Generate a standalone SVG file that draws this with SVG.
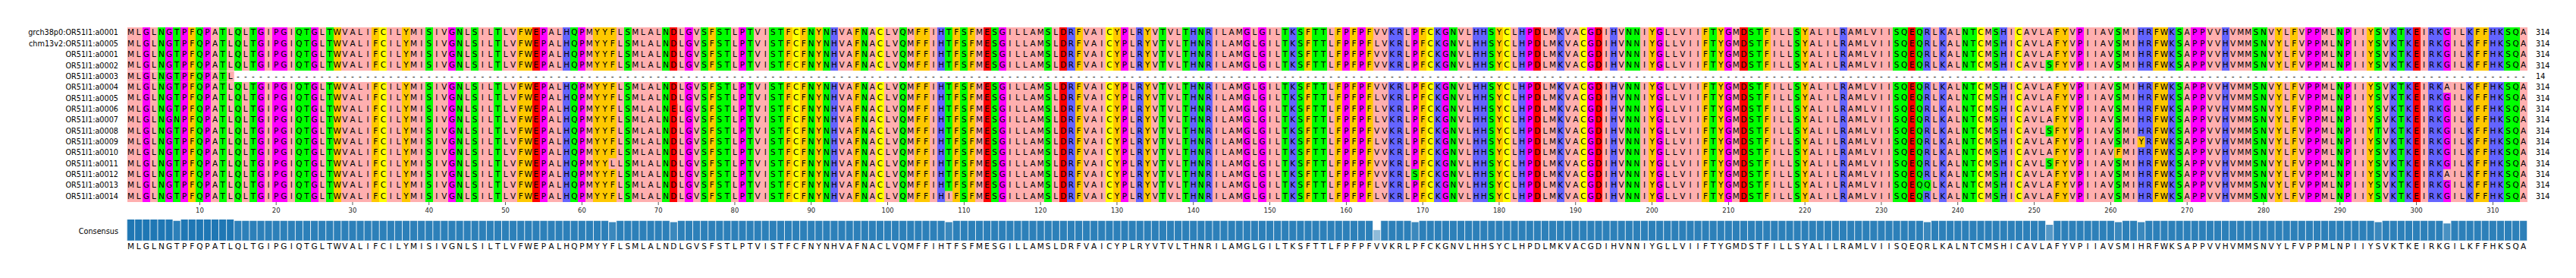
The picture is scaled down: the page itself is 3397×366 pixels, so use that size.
<svg xmlns="http://www.w3.org/2000/svg" width="3397" height="366" viewBox="0 0 3397 366">
<style>
.cH{fill:#ffafaf}.cA{fill:#ffc800}.cP{fill:#6464ff}.cN{fill:#ff0000}.cL{fill:#00ff00}.cG{fill:#ff00ff}.cC{fill:#ffff00}
.s{font:10.5px "DejaVu Sans",sans-serif;fill:#000;text-anchor:middle}
.lb{font:9.7px "DejaVu Sans",sans-serif;fill:#000;text-anchor:end}
.ct{font:9.7px "DejaVu Sans",sans-serif;fill:#000;text-anchor:start}
.tk{font:8.5px "DejaVu Sans",sans-serif;fill:#262626;text-anchor:middle}
</style>
<defs>
<clipPath id="c14"><rect x="167.6" y="93.44" width="141.12" height="14.36"/></clipPath>
<g id="bg" shape-rendering="crispEdges">
<rect class="cH" x="0" width="314" height="1"/>
<rect class="cG" x="2" width="1" height="1"/><rect class="cL" x="4" width="1" height="1"/><rect class="cG" x="5" width="1" height="1"/><rect class="cL" x="6" width="1" height="1"/><rect class="cG" x="7" width="1" height="1"/><rect class="cA" x="8" width="1" height="1"/><rect class="cL" x="9" width="1" height="1"/><rect class="cG" x="10" width="1" height="1"/><rect class="cL" x="12" width="1" height="1"/><rect class="cL" x="14" width="1" height="1"/><rect class="cL" x="16" width="1" height="1"/><rect class="cG" x="17" width="1" height="1"/><rect class="cG" x="19" width="2" height="1"/><rect class="cL" x="22" width="2" height="1"/><rect class="cG" x="24" width="1" height="1"/><rect class="cL" x="26" width="1" height="1"/><rect class="cA" x="27" width="1" height="1"/><rect class="cA" x="32" width="1" height="1"/><rect class="cC" x="33" width="1" height="1"/><rect class="cA" x="36" width="1" height="1"/><rect class="cL" x="39" width="1" height="1"/><rect class="cG" x="42" width="1" height="1"/><rect class="cL" x="43" width="1" height="1"/><rect class="cL" x="45" width="1" height="1"/><rect class="cL" x="48" width="1" height="1"/><rect class="cA" x="51" width="2" height="1"/><rect class="cN" x="53" width="1" height="1"/><rect class="cG" x="54" width="1" height="1"/><rect class="cP" x="57" width="1" height="1"/><rect class="cL" x="58" width="1" height="1"/><rect class="cG" x="59" width="1" height="1"/><rect class="cA" x="61" width="3" height="1"/><rect class="cL" x="65" width="1" height="1"/><rect class="cL" x="70" width="1" height="1"/><rect class="cN" x="71" width="1" height="1"/><rect class="cG" x="73" width="1" height="1"/><rect class="cL" x="75" width="1" height="1"/><rect class="cA" x="76" width="1" height="1"/><rect class="cL" x="77" width="2" height="1"/><rect class="cG" x="80" width="1" height="1"/><rect class="cL" x="81" width="1" height="1"/><rect class="cL" x="84" width="2" height="1"/><rect class="cA" x="86" width="1" height="1"/><rect class="cC" x="87" width="1" height="1"/><rect class="cA" x="88" width="1" height="1"/><rect class="cL" x="89" width="1" height="1"/><rect class="cA" x="90" width="1" height="1"/><rect class="cL" x="91" width="1" height="1"/><rect class="cP" x="92" width="1" height="1"/><rect class="cA" x="95" width="1" height="1"/><rect class="cL" x="96" width="1" height="1"/><rect class="cC" x="98" width="1" height="1"/><rect class="cL" x="101" width="1" height="1"/><rect class="cA" x="103" width="2" height="1"/><rect class="cP" x="106" width="1" height="1"/><rect class="cL" x="107" width="1" height="1"/><rect class="cA" x="108" width="1" height="1"/><rect class="cL" x="109" width="1" height="1"/><rect class="cA" x="110" width="1" height="1"/><rect class="cN" x="112" width="1" height="1"/><rect class="cL" x="113" width="1" height="1"/><rect class="cG" x="114" width="1" height="1"/><rect class="cL" x="120" width="1" height="1"/><rect class="cN" x="122" width="1" height="1"/><rect class="cP" x="123" width="1" height="1"/><rect class="cA" x="124" width="1" height="1"/><rect class="cC" x="128" width="1" height="1"/><rect class="cA" x="129" width="1" height="1"/><rect class="cG" x="130" width="1" height="1"/><rect class="cP" x="132" width="1" height="1"/><rect class="cA" x="133" width="1" height="1"/><rect class="cL" x="135" width="1" height="1"/><rect class="cL" x="138" width="1" height="1"/><rect class="cP" x="139" width="1" height="1"/><rect class="cL" x="140" width="1" height="1"/><rect class="cP" x="141" width="1" height="1"/><rect class="cG" x="146" width="1" height="1"/><rect class="cG" x="148" width="1" height="1"/><rect class="cL" x="151" width="1" height="1"/><rect class="cP" x="152" width="1" height="1"/><rect class="cL" x="153" width="1" height="1"/><rect class="cA" x="154" width="1" height="1"/><rect class="cL" x="155" width="2" height="1"/><rect class="cA" x="158" width="1" height="1"/><rect class="cG" x="159" width="1" height="1"/><rect class="cA" x="160" width="1" height="1"/><rect class="cG" x="161" width="1" height="1"/><rect class="cA" x="162" width="1" height="1"/><rect class="cP" x="165" width="2" height="1"/><rect class="cG" x="168" width="1" height="1"/><rect class="cA" x="169" width="1" height="1"/><rect class="cC" x="170" width="1" height="1"/><rect class="cP" x="171" width="1" height="1"/><rect class="cG" x="172" width="1" height="1"/><rect class="cL" x="173" width="1" height="1"/><rect class="cP" x="176" width="2" height="1"/><rect class="cL" x="178" width="1" height="1"/><rect class="cA" x="179" width="1" height="1"/><rect class="cC" x="180" width="1" height="1"/><rect class="cP" x="182" width="1" height="1"/><rect class="cG" x="183" width="1" height="1"/><rect class="cN" x="184" width="1" height="1"/><rect class="cP" x="187" width="1" height="1"/><rect class="cC" x="190" width="1" height="1"/><rect class="cG" x="191" width="1" height="1"/><rect class="cN" x="192" width="1" height="1"/><rect class="cP" x="194" width="1" height="1"/><rect class="cL" x="196" width="2" height="1"/><rect class="cA" x="199" width="1" height="1"/><rect class="cG" x="200" width="1" height="1"/><rect class="cA" x="206" width="1" height="1"/><rect class="cL" x="207" width="1" height="1"/><rect class="cA" x="208" width="1" height="1"/><rect class="cG" x="209" width="1" height="1"/><rect class="cN" x="211" width="1" height="1"/><rect class="cL" x="212" width="2" height="1"/><rect class="cA" x="214" width="1" height="1"/><rect class="cL" x="218" width="1" height="1"/><rect class="cA" x="219" width="1" height="1"/><rect class="cP" x="224" width="1" height="1"/><rect class="cL" x="231" width="2" height="1"/><rect class="cN" x="233" width="1" height="1"/><rect class="cL" x="234" width="1" height="1"/><rect class="cP" x="235" width="1" height="1"/><rect class="cP" x="237" width="1" height="1"/><rect class="cL" x="240" width="2" height="1"/><rect class="cC" x="242" width="1" height="1"/><rect class="cL" x="244" width="1" height="1"/><rect class="cP" x="245" width="1" height="1"/><rect class="cC" x="247" width="1" height="1"/><rect class="cA" x="252" width="2" height="1"/><rect class="cG" x="255" width="1" height="1"/><rect class="cL" x="260" width="1" height="1"/><rect class="cP" x="263" width="2" height="1"/><rect class="cA" x="265" width="2" height="1"/><rect class="cP" x="267" width="1" height="1"/><rect class="cL" x="268" width="1" height="1"/><rect class="cG" x="270" width="2" height="1"/><rect class="cP" x="274" width="1" height="1"/><rect class="cL" x="278" width="2" height="1"/><rect class="cA" x="281" width="1" height="1"/><rect class="cA" x="283" width="1" height="1"/><rect class="cG" x="285" width="2" height="1"/><rect class="cL" x="289" width="1" height="1"/><rect class="cG" x="290" width="1" height="1"/><rect class="cA" x="293" width="1" height="1"/><rect class="cL" x="294" width="1" height="1"/><rect class="cP" x="296" width="1" height="1"/><rect class="cL" x="297" width="1" height="1"/><rect class="cP" x="298" width="1" height="1"/><rect class="cN" x="299" width="1" height="1"/><rect class="cP" x="301" width="2" height="1"/><rect class="cG" x="303" width="1" height="1"/><rect class="cP" x="306" width="1" height="1"/><rect class="cA" x="307" width="2" height="1"/><rect class="cP" x="309" width="2" height="1"/><rect class="cL" x="311" width="2" height="1"/>
</g>
<text id="seq" class="s" y="0" x="172.6 182.7 192.8 202.9 213 223 233.1 243.2 253.3 263.4 273.4 283.5 293.6 303.7 313.8 323.8 333.9 344 354.1 364.2 374.2 384.3 394.4 404.5 414.6 424.6 434.7 444.8 454.9 465 475 485.1 495.2 505.3 515.4 525.4 535.5 545.6 555.7 565.8 575.8 585.9 596 606.1 616.2 626.2 636.3 646.4 656.5 666.6 676.6 686.7 696.8 706.9 717 727 737.1 747.2 757.3 767.4 777.4 787.5 797.6 807.7 817.8 827.8 837.9 848 858.1 868.2 878.2 888.3 898.4 908.5 918.6 928.6 938.7 948.8 958.9 969 979 989.1 999.2 1009.3 1019.4 1029.4 1039.5 1049.6 1059.7 1069.8 1079.8 1089.9 1100 1110.1 1120.2 1130.2 1140.3 1150.4 1160.5 1170.6 1180.6 1190.7 1200.8 1210.9 1221 1231 1241.1 1251.2 1261.3 1271.4 1281.4 1291.5 1301.6 1311.7 1321.8 1331.8 1341.9 1352 1362.1 1372.2 1382.2 1392.3 1402.4 1412.5 1422.6 1432.6 1442.7 1452.8 1462.9 1473 1483 1493.1 1503.2 1513.3 1523.4 1533.4 1543.5 1553.6 1563.7 1573.8 1583.8 1593.9 1604 1614.1 1624.2 1634.2 1644.3 1654.4 1664.5 1674.6 1684.6 1694.7 1704.8 1714.9 1725 1735 1745.1 1755.2 1765.3 1775.4 1785.4 1795.5 1805.6 1815.7 1825.8 1835.8 1845.9 1856 1866.1 1876.2 1886.2 1896.3 1906.4 1916.5 1926.6 1936.6 1946.7 1956.8 1966.9 1977 1987 1997.1 2007.2 2017.3 2027.4 2037.4 2047.5 2057.6 2067.7 2077.8 2087.8 2097.9 2108 2118.1 2128.2 2138.2 2148.3 2158.4 2168.5 2178.6 2188.6 2198.7 2208.8 2218.9 2229 2239 2249.1 2259.2 2269.3 2279.4 2289.4 2299.5 2309.6 2319.7 2329.8 2339.8 2349.9 2360 2370.1 2380.2 2390.2 2400.3 2410.4 2420.5 2430.6 2440.6 2450.7 2460.8 2470.9 2481 2491 2501.1 2511.2 2521.3 2531.4 2541.4 2551.5 2561.6 2571.7 2581.8 2591.8 2601.9 2612 2622.1 2632.2 2642.2 2652.3 2662.4 2672.5 2682.6 2692.6 2702.7 2712.8 2722.9 2733 2743 2753.1 2763.2 2773.3 2783.4 2793.4 2803.5 2813.6 2823.7 2833.8 2843.8 2853.9 2864 2874.1 2884.2 2894.2 2904.3 2914.4 2924.5 2934.6 2944.6 2954.7 2964.8 2974.9 2985 2995 3005.1 3015.2 3025.3 3035.4 3045.4 3055.5 3065.6 3075.7 3085.8 3095.8 3105.9 3116 3126.1 3136.2 3146.2 3156.3 3166.4 3176.5 3186.6 3196.6 3206.7 3216.8 3226.9 3237 3247 3257.1 3267.2 3277.3 3287.4 3297.4 3307.5 3317.6 3327.7">MLGLNGTPFQPATLQLTGIPGIQTGLTWVALIFCILYMISIVGNLSILTLVFWEPALHQPMYYFLSMLALNDLGVSFSTLPTVISTFCFNYNHVAFNACLVQMFFIHTFSFMESGILLAMSLDRFVAICYPLRYVTVLTHNRILAMGLGILTKSFTTLFPFPFVVKRLPFCKGNVLHHSYCLHPDLMKVACGDIHVNNIYGLLVIIFTYGMDSTFILLSYALILRAMLVIISQEQRLKALNTCMSHICAVLAFYVPIIAVSMIHRFWKSAPPVVHVMMSNVYLFVPPMLNPIIYSVKTKEIRKGILKFFHKSQA</text>
</defs>
<rect width="3397" height="366" fill="#fff"/>
<g id="backgrounds">
<use href="#bg" transform="translate(167.6,36) scale(10.08,57.44)"/>
<use href="#bg" transform="translate(167.6,107.8) scale(10.08,157.96)"/>
<g clip-path="url(#c14)"><use href="#bg" transform="translate(167.6,93.44) scale(10.08,14.36)"/></g>
</g>
<g id="row-grch38p0-a0001"><text class="lb" x="156" y="46.4">grch38p0:OR51I1:a0001</text><use href="#seq" y="46.3"/><text class="ct" x="3344" y="46.4">314</text></g>
<g id="row-chm13v2-a0005"><text class="lb" x="156" y="60.7">chm13v2:OR51I1:a0005</text><use href="#seq" y="60.6"/><text class="ct" x="3344" y="60.7">314</text></g>
<g id="row-a0001"><text class="lb" x="156" y="75.1">OR51I1:a0001</text><use href="#seq" y="75"/><text class="ct" x="3344" y="75.1">314</text></g>
<g id="row-a0002"><text class="lb" x="156" y="89.5">OR51I1:a0002</text><use href="#seq" y="89.4"/><text class="ct" x="3344" y="89.5">314</text></g>
<g id="row-a0003"><text class="lb" x="156" y="103.8">OR51I1:a0003</text><text class="s" y="103.7" x="172.6 182.7 192.8 202.9 213 223 233.1 243.2 253.3 263.4 273.4 283.5 293.6 303.7 313.8 323.8 333.9 344 354.1 364.2 374.2 384.3 394.4 404.5 414.6 424.6 434.7 444.8 454.9 465 475 485.1 495.2 505.3 515.4 525.4 535.5 545.6 555.7 565.8 575.8 585.9 596 606.1 616.2 626.2 636.3 646.4 656.5 666.6 676.6 686.7 696.8 706.9 717 727 737.1 747.2 757.3 767.4 777.4 787.5 797.6 807.7 817.8 827.8 837.9 848 858.1 868.2 878.2 888.3 898.4 908.5 918.6 928.6 938.7 948.8 958.9 969 979 989.1 999.2 1009.3 1019.4 1029.4 1039.5 1049.6 1059.7 1069.8 1079.8 1089.9 1100 1110.1 1120.2 1130.2 1140.3 1150.4 1160.5 1170.6 1180.6 1190.7 1200.8 1210.9 1221 1231 1241.1 1251.2 1261.3 1271.4 1281.4 1291.5 1301.6 1311.7 1321.8 1331.8 1341.9 1352 1362.1 1372.2 1382.2 1392.3 1402.4 1412.5 1422.6 1432.6 1442.7 1452.8 1462.9 1473 1483 1493.1 1503.2 1513.3 1523.4 1533.4 1543.5 1553.6 1563.7 1573.8 1583.8 1593.9 1604 1614.1 1624.2 1634.2 1644.3 1654.4 1664.5 1674.6 1684.6 1694.7 1704.8 1714.9 1725 1735 1745.1 1755.2 1765.3 1775.4 1785.4 1795.5 1805.6 1815.7 1825.8 1835.8 1845.9 1856 1866.1 1876.2 1886.2 1896.3 1906.4 1916.5 1926.6 1936.6 1946.7 1956.8 1966.9 1977 1987 1997.1 2007.2 2017.3 2027.4 2037.4 2047.5 2057.6 2067.7 2077.8 2087.8 2097.9 2108 2118.1 2128.2 2138.2 2148.3 2158.4 2168.5 2178.6 2188.6 2198.7 2208.8 2218.9 2229 2239 2249.1 2259.2 2269.3 2279.4 2289.4 2299.5 2309.6 2319.7 2329.8 2339.8 2349.9 2360 2370.1 2380.2 2390.2 2400.3 2410.4 2420.5 2430.6 2440.6 2450.7 2460.8 2470.9 2481 2491 2501.1 2511.2 2521.3 2531.4 2541.4 2551.5 2561.6 2571.7 2581.8 2591.8 2601.9 2612 2622.1 2632.2 2642.2 2652.3 2662.4 2672.5 2682.6 2692.6 2702.7 2712.8 2722.9 2733 2743 2753.1 2763.2 2773.3 2783.4 2793.4 2803.5 2813.6 2823.7 2833.8 2843.8 2853.9 2864 2874.1 2884.2 2894.2 2904.3 2914.4 2924.5 2934.6 2944.6 2954.7 2964.8 2974.9 2985 2995 3005.1 3015.2 3025.3 3035.4 3045.4 3055.5 3065.6 3075.7 3085.8 3095.8 3105.9 3116 3126.1 3136.2 3146.2 3156.3 3166.4 3176.5 3186.6 3196.6 3206.7 3216.8 3226.9 3237 3247 3257.1 3267.2 3277.3 3287.4 3297.4 3307.5 3317.6 3327.7">MLGLNGTPFQPATL------------------------------------------------------------------------------------------------------------------------------------------------------------------------------------------------------------------------------------------------------------------------------------------------------------</text><text class="ct" x="3344" y="103.8">14</text></g>
<g id="row-a0004"><text class="lb" x="156" y="118.2">OR51I1:a0004</text><use href="#seq" y="118.1"/><text class="ct" x="3344" y="118.2">314</text></g>
<g id="row-a0005"><text class="lb" x="156" y="132.5">OR51I1:a0005</text><use href="#seq" y="132.4"/><text class="ct" x="3344" y="132.5">314</text></g>
<g id="row-a0006"><text class="lb" x="156" y="146.9">OR51I1:a0006</text><use href="#seq" y="146.8"/><text class="ct" x="3344" y="146.9">314</text></g>
<g id="row-a0007"><text class="lb" x="156" y="161.3">OR51I1:a0007</text><use href="#seq" y="161.2"/><text class="ct" x="3344" y="161.3">314</text></g>
<g id="row-a0008"><text class="lb" x="156" y="175.6">OR51I1:a0008</text><use href="#seq" y="175.5"/><text class="ct" x="3344" y="175.6">314</text></g>
<g id="row-a0009"><text class="lb" x="156" y="190">OR51I1:a0009</text><use href="#seq" y="189.9"/><text class="ct" x="3344" y="190">314</text></g>
<g id="row-a0010"><text class="lb" x="156" y="204.3">OR51I1:a0010</text><use href="#seq" y="204.2"/><text class="ct" x="3344" y="204.3">314</text></g>
<g id="row-a0011"><text class="lb" x="156" y="218.7">OR51I1:a0011</text><use href="#seq" y="218.6"/><text class="ct" x="3344" y="218.7">314</text></g>
<g id="row-a0012"><text class="lb" x="156" y="233.1">OR51I1:a0012</text><use href="#seq" y="233"/><text class="ct" x="3344" y="233.1">314</text></g>
<g id="row-a0013"><text class="lb" x="156" y="247.4">OR51I1:a0013</text><use href="#seq" y="247.3"/><text class="ct" x="3344" y="247.4">314</text></g>
<g id="row-a0014"><text class="lb" x="156" y="261.8">OR51I1:a0014</text><use href="#seq" y="261.7"/><text class="ct" x="3344" y="261.8">314</text></g>
<g id="variant-cells" transform="translate(167.6,36) scale(10.08,14.36)">
<rect class="cL" x="6" y="8" width="1" height="1"/>
<rect class="cH" x="63" y="12" width="1" height="1"/>
<rect class="cN" x="71" y="7" width="1" height="1"/>
<rect class="cH" x="107" y="15" width="1" height="1"/>
<rect class="cH" x="163" y="1" width="1" height="1"/><rect class="cH" x="163" y="6" width="1" height="3"/><rect class="cH" x="163" y="10" width="1" height="1"/><rect class="cH" x="163" y="14" width="1" height="2"/>
<rect class="cL" x="168" y="13" width="1" height="1"/>
<rect class="cL" x="235" y="14" width="1" height="1"/>
<rect class="cL" x="251" y="3" width="1" height="1"/><rect class="cL" x="251" y="9" width="1" height="1"/><rect class="cL" x="251" y="12" width="1" height="1"/>
<rect class="cA" x="260" y="11" width="1" height="1"/>
<rect class="cA" x="263" y="10" width="1" height="1"/>
<rect class="cL" x="294" y="9" width="1" height="1"/>
<rect class="cH" x="303" y="5" width="1" height="1"/><rect class="cH" x="303" y="13" width="1" height="1"/>
</g>
<g id="variant-letters">
<text class="s" x="233.1" y="161.2">N</text>
<text class="s" x="807.7" y="218.6">L</text>
<text class="s" x="888.3" y="146.8">E</text>
<text class="s" x="1251.2" y="261.7">I</text>
<text class="s" x="1815.7" y="60.6">L</text><text class="s" x="1815.7" y="132.4">L</text><text class="s" x="1815.7" y="146.8">L</text><text class="s" x="1815.7" y="161.2">L</text><text class="s" x="1815.7" y="189.9">L</text><text class="s" x="1815.7" y="247.3">L</text><text class="s" x="1815.7" y="261.7">L</text>
<text class="s" x="1866.1" y="233">S</text>
<text class="s" x="2541.4" y="247.3">Q</text>
<text class="s" x="2702.7" y="89.4">S</text><text class="s" x="2702.7" y="175.5">S</text><text class="s" x="2702.7" y="218.6">S</text>
<text class="s" x="2793.4" y="204.2">F</text>
<text class="s" x="2823.7" y="189.9">Y</text>
<text class="s" x="3136.2" y="175.5">T</text>
<text class="s" x="3226.9" y="118.1">A</text><text class="s" x="3226.9" y="233">A</text>
</g>
<g id="ruler">
<line x1="262.96" y1="267.9" x2="3290" y2="267.9" stroke="#333" stroke-width="4" stroke-dasharray="0.8 100"/>
<text class="tk" x="263.4" y="280">10</text><text class="tk" x="364.2" y="280">20</text><text class="tk" x="465" y="280">30</text><text class="tk" x="565.8" y="280">40</text><text class="tk" x="666.6" y="280">50</text><text class="tk" x="767.4" y="280">60</text><text class="tk" x="868.2" y="280">70</text><text class="tk" x="969" y="280">80</text><text class="tk" x="1069.8" y="280">90</text><text class="tk" x="1170.6" y="280">100</text><text class="tk" x="1271.4" y="280">110</text><text class="tk" x="1372.2" y="280">120</text><text class="tk" x="1473" y="280">130</text><text class="tk" x="1573.8" y="280">140</text><text class="tk" x="1674.6" y="280">150</text><text class="tk" x="1775.4" y="280">160</text><text class="tk" x="1876.2" y="280">170</text><text class="tk" x="1977" y="280">180</text><text class="tk" x="2077.8" y="280">190</text><text class="tk" x="2178.6" y="280">200</text><text class="tk" x="2279.4" y="280">210</text><text class="tk" x="2380.2" y="280">220</text><text class="tk" x="2481" y="280">230</text><text class="tk" x="2581.8" y="280">240</text><text class="tk" x="2682.6" y="280">250</text><text class="tk" x="2783.4" y="280">260</text><text class="tk" x="2884.2" y="280">270</text><text class="tk" x="2985" y="280">280</text><text class="tk" x="3085.8" y="280">290</text><text class="tk" x="3186.6" y="280">300</text><text class="tk" x="3287.4" y="280">310</text>
</g>
<g id="consensus">
<text class="lb" x="156" y="308.3">Consensus</text>
<g fill="#1f77b4" transform="translate(167.6,316.7) scale(10.08,-27.7)">
<rect x="0" width="6" height="1"/><rect x="7" width="7" height="1"/>
<g fill-opacity="0.9375">
<rect x="6" width="1" height="0.9375"/><rect x="14" width="49" height="0.9375"/><rect x="64" width="7" height="0.9375"/><rect x="72" width="35" height="0.9375"/><rect x="108" width="55" height="0.9375"/><rect x="164" width="4" height="0.9375"/><rect x="169" width="66" height="0.9375"/><rect x="236" width="15" height="0.9375"/><rect x="252" width="8" height="0.9375"/><rect x="261" width="2" height="0.9375"/><rect x="264" width="30" height="0.9375"/><rect x="295" width="8" height="0.9375"/><rect x="304" width="10" height="0.9375"/>
</g>
<g fill-opacity="0.875">
<rect x="63" width="1" height="0.875"/><rect x="71" width="1" height="0.875"/><rect x="107" width="1" height="0.875"/><rect x="168" width="1" height="0.875"/><rect x="235" width="1" height="0.875"/><rect x="260" width="1" height="0.875"/><rect x="263" width="1" height="0.875"/><rect x="294" width="1" height="0.875"/>
</g>
<rect x="303" width="1" height="0.8125" fill-opacity="0.8125"/>
<rect x="251" width="1" height="0.75" fill-opacity="0.75"/>
<rect x="163" width="1" height="0.5" fill-opacity="0.5"/>
</g>
<line x1="167.6" y1="302.85" x2="3333.2" y2="302.85" stroke="#fff" stroke-opacity="0.85" stroke-width="27.9" stroke-dasharray="1 9.08" stroke-dashoffset="0.5"/>
<use href="#seq" y="328"/>
</g>
</svg>
